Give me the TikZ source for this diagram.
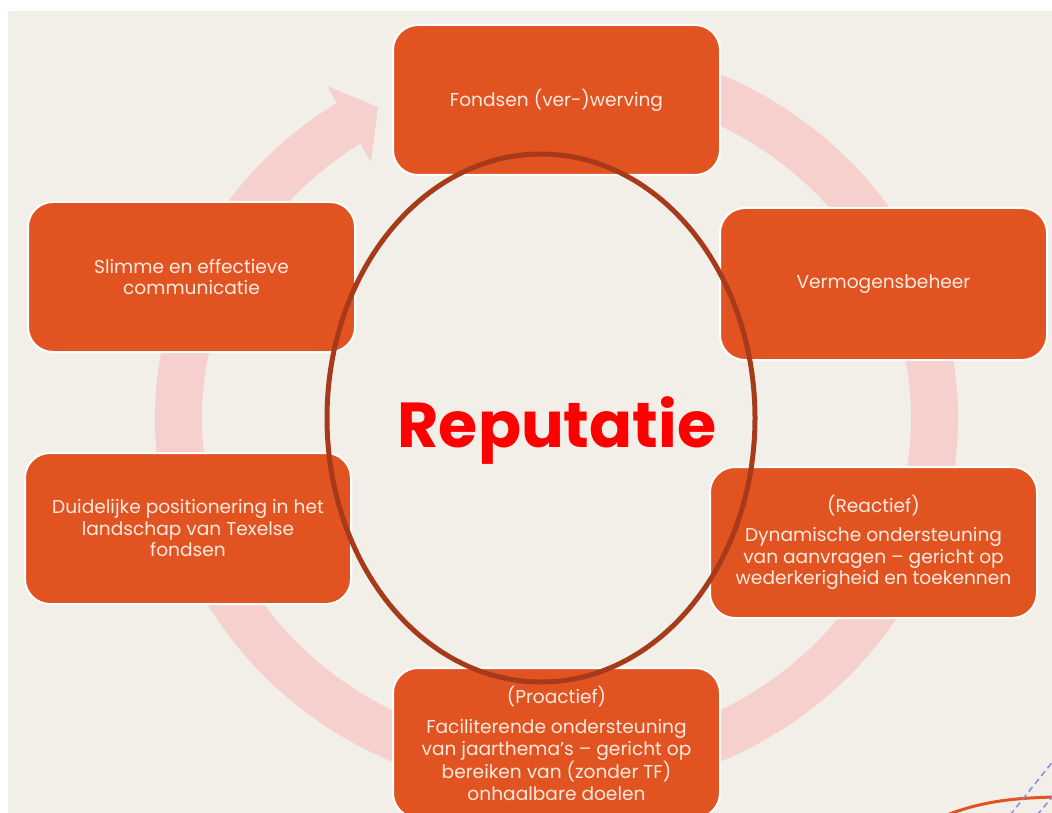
\documentclass[tikz,border=0pt]{standalone}
\usepackage{fontspec}
\setmainfont{Poppins}
\usetikzlibrary{calc}
\definecolor{bg}{HTML}{F2EFE9}
\definecolor{ringc}{HTML}{F5D0CD}
\definecolor{boxor}{HTML}{E25322}
\definecolor{boxtxt}{HTML}{FCEADF}
\definecolor{ellc}{HTML}{A83A1C}
\definecolor{dashc}{HTML}{8A8AEE}
\begin{document}
\begin{tikzpicture}[x=1pt,y=-1pt,
  cbox/.style={draw=white, line width=2pt, fill=boxor, rounded corners=25pt,
    minimum width=327pt, minimum height=150pt, text=boxtxt, align=center,
    font=\fontsize{18.6}{21.5}\selectfont, inner sep=0pt},
  deco/.style={line width=1.5pt, dashc, dash pattern=on 6pt off 4pt}
]
\useasboundingbox (0,0) rectangle (1052,813);
\clip (0,0) rectangle (1052,813);
\fill[white] (0,0) rectangle (1052,813);
\fill[bg] (8,11) rectangle (1052,813);
% circular arrow
\coordinate (rs) at (622.1,70.4);
\draw[ringc, line width=47pt] (rs) arc[start angle=-80, end angle=237, x radius=378, y radius=353];
\fill[ringc] (378,107) -- (327,86) -- (371,162) -- cycle;
% boxes
\node[cbox] (top) at (556.5,100) {Fondsen (ver-)werving};
\node[cbox, minimum height=152pt] (verm) at (883.5,284) {Vermogensbeheer};
\node[cbox, minimum height=151pt] (reac) at (873.5,542.5) {(Reactief)\\[8pt]Dynamische ondersteuning\\van aanvragen -- gericht op\\wederkerigheid en toekennen};
\node[cbox] (bot) at (556.5,743) {(Proactief)\\[9pt]Faciliterende ondersteuning\\van jaarthema’s -- gericht op\\bereiken van (zonder TF)\\onhaalbare doelen};
\node[cbox, minimum width=326pt, minimum height=151pt] (llow) at (188,528.5) {Duidelijke positionering in het\\landschap van Texelse\\fondsen};
\node[cbox] (lup) at (191.5,277) {Slimme en effectieve\\communicatie};
% ellipse
\draw[ellc, line width=5pt] (541,418) ellipse[x radius=214, y radius=264];
\node[text=red, font=\fontsize{63.5}{68}\selectfont\bfseries, anchor=base, inner sep=0pt] (rep) at (557,447) {Reputatie};
% corner decorations
\draw[boxor, line width=3pt] (947,815) .. controls (985,800) and (1020,798) .. (1054,797);
\draw[deco] (1010,815) -- (1054,760);
\draw[deco] (1037,815) -- (1054,795);
\end{tikzpicture}
\end{document}
